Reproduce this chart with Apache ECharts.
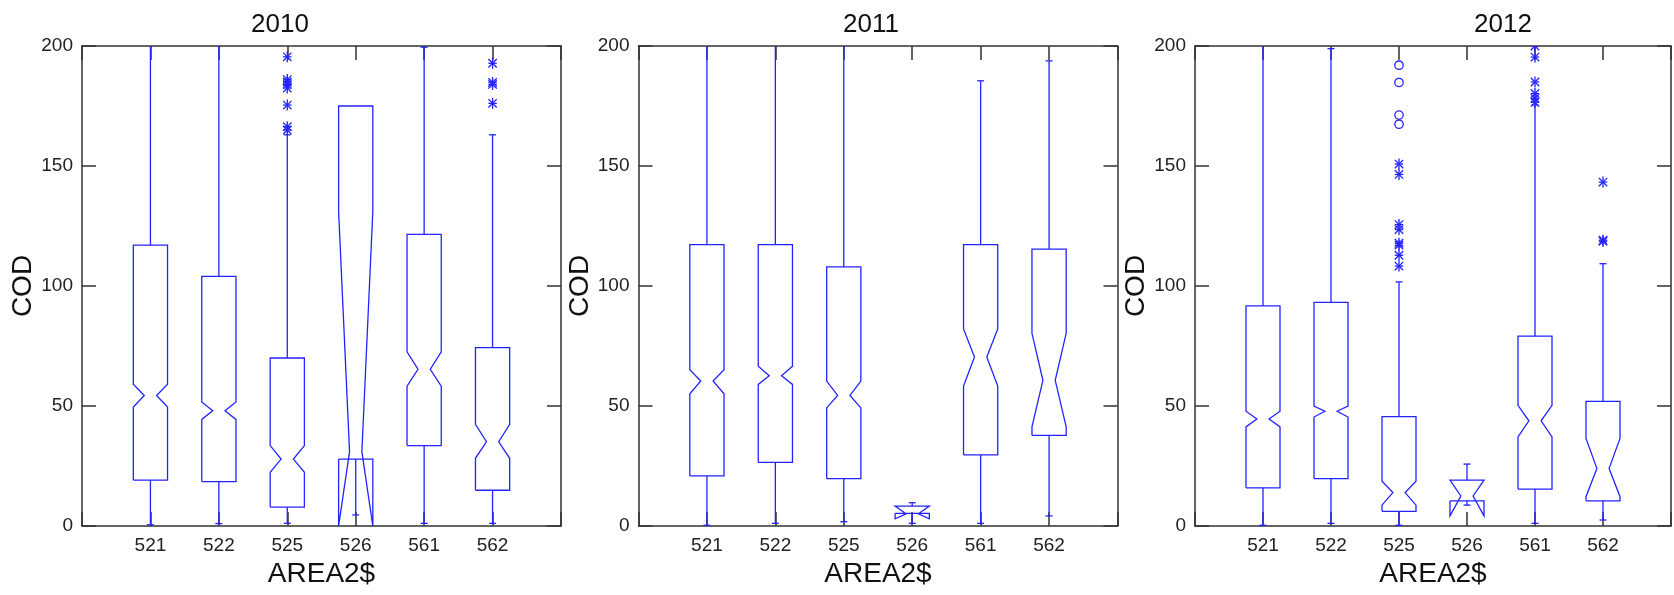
<!DOCTYPE html>
<html>
<head>
<meta charset="utf-8">
<script src="https://cdn.jsdelivr.net/npm/echarts@6/dist/echarts.min.js"></script>
<style>
  html, body { margin: 0; padding: 0; background: #fff; }
  #chart { width: 1674px; height: 595px; }
</style>
</head>
<body>
<div id="chart"></div>
<script>
// Area codes along the x axis (positions 1..6)
const areas = ['521', '522', '525', '526', '561', '562'];
const years = ['2010', '2011', '2012'];

// Notched box statistics per area:
// [lower whisker, Q1, notch low, median, notch high, Q3, upper whisker]
const stats2010 = [
  [0.5, 19.1, 49.6, 54.4, 59.1, 117.0, 215],
  [1.0, 18.5, 44.4, 48.0, 51.7, 104.0, 212],
  [1.1, 7.9, 22.4, 27.9, 33.5, 70.0, 163],
  [4.6, 27.9, 0.0, 31.0, 131.0, 175.0, 175],
  [1.1, 33.5, 58.3, 65.3, 72.6, 121.5, 199.5],
  [1.1, 14.9, 28.2, 35.1, 42.4, 74.3, 163]
];
const stats2011 = [
  [0.3, 20.9, 55.1, 60.4, 65.1, 117.2, 215],
  [1.1, 26.5, 59.0, 62.6, 66.6, 117.2, 212],
  [1.8, 19.7, 49.2, 54.4, 60.4, 108.0, 210],
  [1.1, 5.3, 3.0, 5.1, 8.3, 8.3, 9.7],
  [1.1, 29.6, 58.3, 70.4, 82.1, 117.2, 185.5],
  [4.2, 37.8, 41.3, 60.7, 80.3, 115.4, 193.8]
];
const stats2012 = [
  [0.3, 15.9, 41.3, 44.6, 47.8, 91.7, 215],
  [1.1, 19.7, 45.4, 47.8, 50.0, 93.2, 198.9],
  [0.3, 6.1, 8.7, 13.9, 18.7, 45.6, 101.7],
  [8.7, 10.5, 4.2, 12.5, 19.1, 19.1, 25.8],
  [1.1, 15.4, 37.1, 43.8, 50.3, 79.1, 175.4],
  [2.5, 10.5, 12.2, 24.0, 36.5, 51.9, 109.3]
];

// Outside values (drawn as asterisks) and far-outside values (drawn as circles), per area
const outside2010 = [[], [], [195.5, 186, 185, 184, 182.5, 175.4, 166.4, 165], [], [], [192.8, 184.8, 184, 176.1]];
const farOutside2010 = [[], [], [], [], [], []];
const outside2011 = [[], [], [], [], [], []];
const farOutside2011 = [[], [], [], [], [], []];
const outside2012 = [[], [], [150.8, 146.5, 125.6, 123.5, 117.8, 117, 112.8, 108.3], [], [200, 195.4, 185, 180.2, 178.2, 176.5], [143.3, 119.1, 118.6]];
const farOutside2012 = [[], [], [192, 184.8, 171.2, 167.4], [], [], []];

const yearStats = [stats2010, stats2011, stats2012];
const yearOutside = [outside2010, outside2011, outside2012];
const yearFar = [farOutside2010, farOutside2011, farOutside2012];

const BLUE = '#2323ff';
const AXIS = '#333333';
const gridLefts = [82, 638.5, 1195];
const titleCenters = [275, 866, 1498];

// One notched box: outline polygon folds back where a notch passes a hinge
function boxItem(params, api) {
  const x = api.value(0);
  const wlo = api.value(1), q1 = api.value(2), nlo = api.value(3), med = api.value(4);
  const nhi = api.value(5), q3 = api.value(6), whi = api.value(7);
  const half = api.size([0.5, 0])[0] / 2;
  const inner = half * 0.36;
  const cx = api.coord([x, med])[0];
  const y = v => api.coord([x, v])[1];
  const L = cx - half, R = cx + half, IL = cx - inner, IR = cx + inner;
  const style = { stroke: BLUE, lineWidth: 1.3, fill: null };
  const cap = 3.5;
  const children = [{
    type: 'polyline',
    shape: { points: [[L, y(q1)], [L, y(nlo)], [IL, y(med)], [L, y(nhi)], [L, y(q3)],
                      [R, y(q3)], [R, y(nhi)], [IR, y(med)], [R, y(nlo)], [R, y(q1)], [L, y(q1)]] },
    style: style
  }];
  if (whi > q3) {
    children.push({ type: 'line', shape: { x1: cx, y1: y(q3), x2: cx, y2: y(whi) }, style: style });
    children.push({ type: 'line', shape: { x1: cx - cap, y1: y(whi), x2: cx + cap, y2: y(whi) }, style: style });
  }
  if (wlo < q1) {
    children.push({ type: 'line', shape: { x1: cx, y1: y(q1), x2: cx, y2: y(wlo) }, style: style });
    children.push({ type: 'line', shape: { x1: cx - cap, y1: y(wlo), x2: cx + cap, y2: y(wlo) }, style: style });
  }
  return { type: 'group', children: children };
}

// Asterisk for outside values, open circle for far-outside values
function outlierItem(params, api) {
  const p = api.coord([api.value(0), api.value(1)]);
  const kind = api.value(2);
  const style = { stroke: BLUE, lineWidth: 1.3, fill: null };
  if (kind === 1) {
    return { type: 'circle', shape: { cx: p[0], cy: p[1], r: 4.2 }, style: style };
  }
  const a = 5.5, d = 4.2;
  return {
    type: 'group',
    children: [
      { type: 'line', shape: { x1: p[0], y1: p[1] - a, x2: p[0], y2: p[1] + a }, style: style },
      { type: 'line', shape: { x1: p[0] - d, y1: p[1], x2: p[0] + d, y2: p[1] }, style: style },
      { type: 'line', shape: { x1: p[0] - d, y1: p[1] - d, x2: p[0] + d, y2: p[1] + d }, style: style },
      { type: 'line', shape: { x1: p[0] - d, y1: p[1] + d, x2: p[0] + d, y2: p[1] - d }, style: style }
    ]
  };
}

const tickFont = { fontFamily: "'Liberation Sans', Arial, sans-serif", fontSize: 19, color: '#222' };
const nameFont = { fontFamily: "'Liberation Sans', Arial, sans-serif", fontSize: 28, color: '#111' };

const grids = [], xAxes = [], yAxes = [], series = [], titles = [];
years.forEach((yr, i) => {
  grids.push({ left: gridLefts[i], top: 46, width: 479, height: 480, containLabel: false });
  titles.push({
    text: yr, left: titleCenters[i], top: 7, textAlign: 'center',
    textStyle: { fontFamily: "'Liberation Sans', Arial, sans-serif", fontSize: 26, fontWeight: 'normal', color: '#111' }
  });
  const common = {
    type: 'value', gridIndex: i, min: 0, max: 7, interval: 1,
    axisLine: { show: true, onZero: false, lineStyle: { color: AXIS, width: 1.5 } },
    axisTick: { show: true, inside: true, length: 14, lineStyle: { color: AXIS, width: 1.5 } },
    splitLine: { show: false }
  };
  xAxes.push(Object.assign({}, common, {
    position: 'bottom',
    name: 'AREA2$', nameLocation: 'middle', nameGap: 34, nameTextStyle: nameFont,
    axisLabel: Object.assign({ margin: 10, formatter: v => areas[v - 1] || '' }, tickFont)
  }));
  xAxes.push(Object.assign({}, common, { position: 'top', axisLabel: { show: false } }));
  const ycommon = {
    type: 'value', gridIndex: i, min: 0, max: 200, interval: 50,
    axisLine: { show: true, onZero: false, lineStyle: { color: AXIS, width: 1.5 } },
    axisTick: { show: true, inside: true, length: 14, lineStyle: { color: AXIS, width: 1.5 } },
    splitLine: { show: false }
  };
  yAxes.push(Object.assign({}, ycommon, {
    position: 'left',
    name: 'COD', nameLocation: 'middle', nameGap: 36, nameTextStyle: nameFont,
    axisLabel: Object.assign({ margin: 9 }, tickFont)
  }));
  yAxes.push(Object.assign({}, ycommon, { position: 'right', axisLabel: { show: false } }));

  const boxData = yearStats[i].map((s, k) => [k + 1].concat(s));
  const outData = [];
  yearOutside[i].forEach((vals, k) => vals.forEach(v => outData.push([k + 1, v, 0])));
  yearFar[i].forEach((vals, k) => vals.forEach(v => outData.push([k + 1, v, 1])));

  series.push({
    type: 'custom', xAxisIndex: 2 * i, yAxisIndex: 2 * i, clip: true,
    renderItem: boxItem, data: boxData, encode: { x: 0, y: [1, 2, 3, 4, 5, 6, 7] }, silent: true
  });
  series.push({
    type: 'custom', xAxisIndex: 2 * i, yAxisIndex: 2 * i, clip: true,
    renderItem: outlierItem, data: outData, encode: { x: 0, y: 1 }, silent: true
  });
});

const chart = echarts.init(document.getElementById('chart'), null, { renderer: 'canvas' });
chart.setOption({
  backgroundColor: '#ffffff',
  animation: false,
  title: titles,
  grid: grids,
  xAxis: xAxes,
  yAxis: yAxes,
  series: series
});
</script>
</body>
</html>
